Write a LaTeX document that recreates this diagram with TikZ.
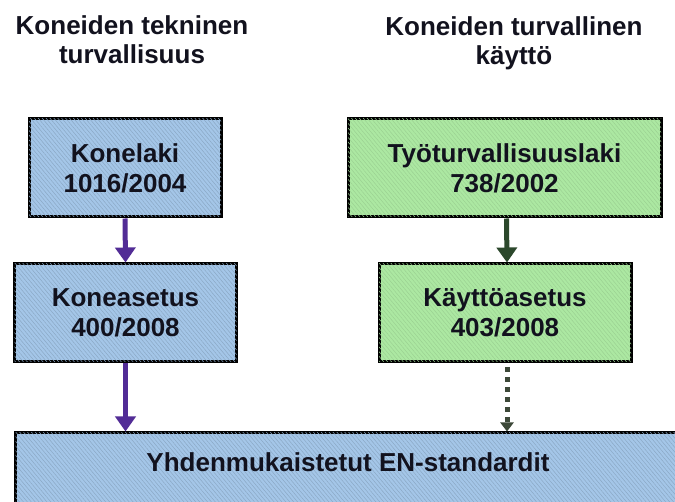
\documentclass[tikz,border=0pt]{standalone}
\usepackage{fontspec}
\setmainfont{Liberation Sans}
\usetikzlibrary{arrows.meta,patterns.meta}
\definecolor{boxblue}{RGB}{164,198,232}
\definecolor{boxgreen}{RGB}{172,232,162}
\definecolor{arrpurple}{RGB}{82,44,150}
\definecolor{arrgreen}{RGB}{44,72,44}
\definecolor{arrdot}{RGB}{60,72,56}
\definecolor{txt}{RGB}{18,18,30}
\tikzset{
  lawbox/.style={draw=black, line width=3pt, inner sep=0pt, align=center, text=txt,
     font=\fontsize{26}{30}\selectfont\bfseries},
  bluebox/.style={lawbox, fill=boxblue,
     postaction={pattern={Lines[angle=-50,distance=3pt,line width=0.5pt]}, pattern color=boxblue!85!black}},
  greenbox/.style={lawbox, fill=boxgreen,
     postaction={pattern={Lines[angle=-50,distance=3pt,line width=0.5pt]}, pattern color=boxgreen!90!black}},
  title/.style={inner sep=0pt, align=center, text=txt, font=\fontsize{26}{29}\selectfont\bfseries},
  purplearrow/.style={draw=arrpurple, line width=5pt, -{Triangle[width=20pt,length=15pt]}},
  greenarrow/.style={draw=arrgreen, line width=5pt, -{Triangle[width=20pt,length=15pt]}},
  dotarrow/.style={draw=arrdot, line width=5pt, dash pattern=on 5pt off 5pt, -{Triangle[width=13pt,length=9pt]}},
}
\begin{document}
\begin{tikzpicture}[x=1pt,y=-1pt]
\clip (0,0) rectangle (675,502);
\fill[white] (0,0) rectangle (675,502);
\node[title] (t1) at (132,40) {Koneiden tekninen\\turvallisuus};
\node[title] (t2) at (514,43) {Koneiden turvallinen\\käyttö};
\node[bluebox, minimum width=192pt, minimum height=98pt] (konelaki) at (125,168) {Konelaki\\1016/2004};
\node[bluebox, minimum width=222pt, minimum height=98pt] (koneasetus) at (125.5,313) {Koneasetus\\400/2008};
\node[greenbox, minimum width=313pt, minimum height=98pt] (tyo) at (504.5,168) {Työturvallisuuslaki\\738/2002};
\node[greenbox, minimum width=252pt, minimum height=98pt] (kaytto) at (505,313) {Käyttöasetus\\403/2008};
\node[bluebox, minimum width=700pt, minimum height=120pt] (std) at (365.5,493) {};
\node[title] (stdtext) at (348,462) {Yhdenmukaistetut EN-standardit};
\draw[purplearrow] (konelaki.south) -- (koneasetus.north);
\draw[purplearrow] (koneasetus.south) -- (koneasetus.south |- std.north);
\draw[greenarrow] ([xshift=2pt]tyo.south) -- ([xshift=2pt]kaytto.north);
\draw[dotarrow] ([xshift=2pt,yshift=-4pt]kaytto.south) -- ([xshift=2pt]kaytto.south |- std.north);
\end{tikzpicture}
\end{document}
